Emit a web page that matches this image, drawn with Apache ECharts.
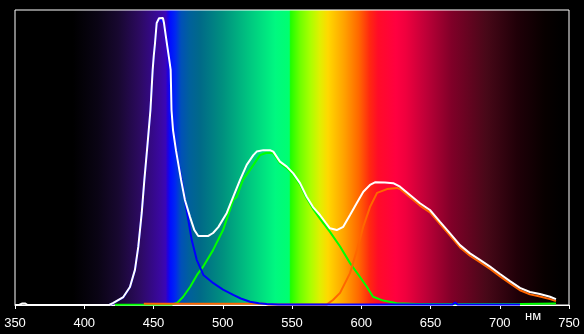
<!DOCTYPE html>
<html>
<head>
<meta charset="utf-8">
<script src="https://cdn.jsdelivr.net/npm/echarts@6/dist/echarts.min.js"></script>
<style>html,body{margin:0;padding:0;background:#000;}#c{width:584px;height:334px;}</style>
</head>
<body>
<div id="c"></div>
<script>
// X tick range
const xMin = 350, xMax = 750, xStep = 50;

// White (total) curve
const wlWhite = [350,353,355,357.5,359,418,421,428.2,433.0,436.6,439.0,441.5,443.4,445.6,447.8,449.4,450.2,451.1,452.3,454.0,455.4,456.8,457.6,459.0,460.0,461.4,462.4,463.0,464.1,466.2,469.9,472.7,476.4,479.5,482.3,489.6,493.0,496.8,502.9,507.6,512.5,517.3,522.1,524.5,529.3,534.1,536.5,541.3,546.2,550.9,555.8,560.6,565.2,570.2,574.5,577.4,582.3,587.0,591.9,596.7,601.5,606.3,609.9,617.1,623.1,628.0,635.2,642.4,649.6,656.9,664.1,671.3,678.5,685.7,693.0,700.2,707.4,714.6,721.8,729.0,736.3,740.6];
const valWhite = [0,0,0.5,0.5,0,0,0.7,2.7,6.1,11.9,19.7,31.2,42.4,54.0,66.1,79.7,84.5,88.8,95.6,97.2,97.6,97.3,95.5,90.8,87.6,83.1,79.7,66.1,59.3,52.5,42.4,35.6,29.8,25.4,23.4,23.4,24.4,26.4,31.2,36.7,42.4,47.5,50.8,52.0,52.5,52.5,52.0,48.6,46.9,44.6,41.3,36.7,33.2,30.5,27.8,26.0,25.4,26.5,30.5,34.5,38.4,40.7,41.6,41.5,41.3,40.1,37.3,34.5,32.2,28.2,24.3,20.3,17.5,15.3,13.0,10.5,8.1,5.8,4.4,3.7,2.8,2.0];

// Blue curve
const wlBlue = [418,421,428.2,433.0,436.6,439.0,441.5,443.4,445.6,447.8,449.4,451.1,452.3,454.0,455.4,457.6,459.0,460.0,461.4,462.4,463.0,464.1,466.2,470.3,473.5,477.6,481.2,486.0,493.2,500.2,507.6,513.0,519.7,526.0,531.7,540,666,667.8,669.5,714.6];
const valBlue = [0,0.6,2.6,6.0,11.8,19.6,31.1,42.3,53.9,66.0,79.6,88.7,95.5,97.1,97.4,95.4,90.7,87.5,83.0,79.6,66.0,59.2,52.4,42.4,33.3,22.0,15.3,10.2,7.4,5.2,3.4,2.2,1.1,0.6,0.3,0.2,0.2,0.8,0.2,0.2];

// Green curve
const wlGreen = [422.2,463.4,467.0,471.3,476.4,481.4,485.7,493.0,500.2,507.6,510.1,514.6,519.7,526.9,531.7,536.5,541.3,546.2,550.9,555.8,560.6,565.2,570.2,577.4,584.6,591.9,599.1,604.0,608.5,615.9,625.6,640.0,714.6,716,740.6];
const valGreen = [0.1,0.2,0.7,2.7,6.1,10.2,12.9,18.6,25.4,35.6,36.7,42.4,45.8,50.8,51.6,51.4,48.1,46.4,44.1,40.8,36.2,32.6,29.3,24.8,19.9,14.2,9.5,6.2,2.8,1.5,0.6,0.35,0.3,0.5,0.5];

// Orange curve
const wlOrange = [443,530,533,575.3,579.6,584.7,591.9,596.9,601.3,606.3,611.4,618.6,625.8,628.0,635.2,642.4,649.6,656.9,664.1,671.3,678.5,685.7,693.0,700.2,707.4,714.6,721.8,729.0,736.3,740.6];
const valOrange = [0.4,0.4,0.15,0.2,1.7,4.1,10.8,18.6,26.4,33.2,38.0,39.3,39.7,39.3,36.5,33.7,31.4,27.4,23.5,19.5,16.7,14.5,12.2,9.7,7.3,5.0,3.6,2.9,2.0,1.3];

// Spectrum background (style): wavelength -> colour
const spectrumStops = [
  [350,'#000000'],[392,'#000000'],[410,'#0a0414'],[425,'#180830'],[440,'#2c0a60'],
  [455,'#3a08a0'],[459,'#3a06b8'],[460.5,'#2000e0'],[462.5,'#0010ff'],[466,'#0028f0'],
  [470,'#0050b8'],[476,'#00609c'],[484,'#006a88'],[500,'#00907f'],[520,'#00c880'],[538,'#00f880'],
  [548,'#00ff70'],[549,'#20ff00'],[556,'#70ff00'],[563,'#a8ff00'],[570,'#e0f000'],
  [576,'#ffd800'],[588,'#ffa000'],[598,'#ff6800'],[606,'#ff2810'],[612,'#ff0c28'],
  [625,'#ff0040'],[632,'#f0003e'],[646,'#c00038'],[665,'#800028'],[690,'#480818'],
  [712,'#200008'],[732,'#080000'],[745,'#000000'],[750,'#000000']
];

function zip(a, b) { return a.map((x, i) => [x, b[i]]); }

const chart = echarts.init(document.getElementById('c'), null, {renderer: 'canvas'});
const grad = new echarts.graphic.LinearGradient(0, 0, 1, 0,
  spectrumStops.map(s => ({offset: (s[0] - xMin) / (xMax - xMin), color: s[1]})));

function lineSeries(name, data, color) {
  return {
    name: name, type: 'line', data: data, showSymbol: false, symbol: 'none',
    clip: false, lineStyle: {color: color, width: 2}, z: 2
  };
}

chart.setOption({
  backgroundColor: '#000',
  animation: false,
  grid: {left: 15, right: 15, top: 10, bottom: 29, show: true,
         borderColor: '#ffffff', borderWidth: 1, backgroundColor: grad},
  xAxis: {
    type: 'value', min: xMin, max: xMax, interval: xStep,
    axisLine: {lineStyle: {color: '#ffffff', width: 1}},
    axisTick: {length: 4, lineStyle: {color: '#ffffff'}},
    axisLabel: {color: '#ffffff', fontSize: 13, margin: 12, fontFamily: 'Liberation Sans, Arial, sans-serif',
                showMinLabel: true, showMaxLabel: true},
    splitLine: {show: false}
  },
  yAxis: {type: 'value', min: 0, max: 100, show: false},
  series: [
    lineSeries('green', zip(wlGreen, valGreen), '#00ff00'),
    lineSeries('orange', zip(wlOrange, valOrange), '#ff6600'),
    lineSeries('blue', zip(wlBlue, valBlue), '#0000ff'),
    lineSeries('white', zip(wlWhite, valWhite), '#ffffff')
  ],
  graphic: [{
    type: 'text', left: 525, top: 310,
    style: {text: 'нм', fill: '#ffffff', font: '13px Liberation Sans, Arial, sans-serif'}
  }]
});
</script>
</body>
</html>
